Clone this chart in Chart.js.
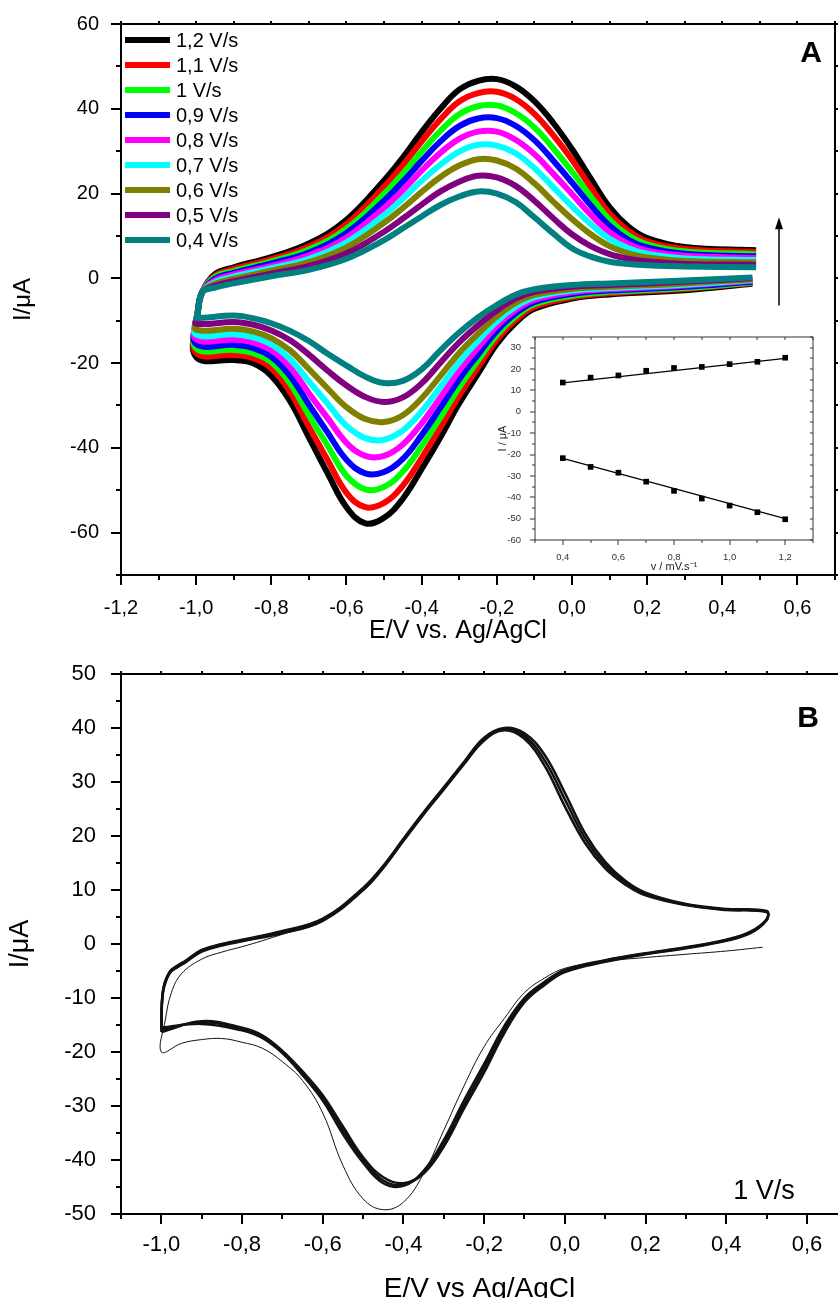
<!DOCTYPE html>
<html lang="en">
<head>
<meta charset="UTF-8" />
<title>Cyclic voltammetry</title>
<script src="https://cdn.jsdelivr.net/npm/chart.js"></script>
<style>
  html, body { margin: 0; padding: 0; background: #fff; overflow: hidden; }
  body { width: 838px; height: 1298px; position: relative; }
  .box { position: absolute; }
</style>
</head>
<body>
<div class="box" style="left:0;top:0;width:838px;height:650px"><canvas id="chartA"></canvas></div>
<div class="box" style="left:490px;top:328px;width:335px;height:250px"><canvas id="inset"></canvas></div>
<div class="box" style="left:0;top:650px;width:838px;height:670px"><canvas id="chartB"></canvas></div>

<script>
Chart.defaults.font.family = '"Liberation Sans", Arial, Helvetica, sans-serif';
Chart.defaults.color = '#000';

// ---------- panel A : CVs at several scan rates ----------
// potential path: cathodic branch (0.48 -> -1.0), switch, anodic branch (-0.95 -> 0.49)
const potA = [0.48, 0.3, 0.1, 0.0, -0.1, -0.15, -0.2, -0.25, -0.3, -0.35, -0.4, -0.45, -0.5, -0.55, -0.6, -0.65, -0.7, -0.75, -0.8, -0.85, -0.9, -1.0,
  -0.997, -0.984,
  -0.95, -0.9, -0.8, -0.7, -0.6, -0.5, -0.45, -0.4, -0.35, -0.3, -0.25, -0.2, -0.15, -0.1, -0.05, 0.0, 0.05, 0.1, 0.15, 0.2, 0.3, 0.49];

const i12 = [-1.3, -2.8, -3.8, -4.8, -7.2, -10.5, -15.5, -22.5, -29.5, -37.5, -45.0, -52.0, -56.5, -57.8, -54.0, -46.0, -37.5, -29.0, -23.0, -20.0, -19.3, -18.6,
  -9.0, -3.3,
  1.0, 2.6, 5.0, 8.2, 13.8, 23.1, 28.5, 34.5, 40.0, 44.5, 46.6, 47.0, 45.3, 41.8, 36.7, 30.5, 23.5, 16.8, 12.2, 9.5, 7.4, 6.6];
const i11 = [-1.1, -2.5, -3.5, -4.5, -6.7, -9.8, -14.5, -21.0, -27.7, -35.2, -42.4, -48.9, -53.0, -54.0, -50.6, -42.9, -35.0, -26.8, -21.2, -18.8, -18.1, -17.6,
  -9.0, -3.3,
  0.6, 2.2, 4.5, 7.5, 12.8, 21.6, 26.7, 32.3, 37.5, 41.7, 43.7, 44.0, 42.3, 38.8, 33.8, 28.0, 21.5, 15.3, 11.2, 8.7, 6.9, 6.2];
const i10 = [-1.0, -2.3, -3.2, -4.1, -6.1, -9.0, -13.4, -19.4, -25.7, -32.8, -39.6, -45.6, -49.2, -49.8, -46.6, -39.5, -32.3, -24.8, -19.8, -17.6, -16.9, -16.5,
  -9.0, -3.3,
  0.3, 1.7, 4.0, 6.8, 11.7, 19.9, 24.7, 29.9, 34.8, 38.7, 40.6, 40.8, 39.0, 35.6, 30.7, 25.2, 19.3, 13.8, 10.1, 8.0, 6.3, 5.7];
const i09 = [-0.8, -2.0, -2.9, -3.7, -5.6, -8.3, -12.4, -18.0, -23.8, -30.5, -37.0, -42.6, -45.7, -46.0, -42.8, -36.4, -29.8, -23.0, -18.5, -16.4, -15.7, -15.5,
  -9.0, -3.3,
  -0.1, 1.3, 3.5, 6.1, 10.7, 18.3, 22.8, 27.7, 32.3, 35.9, 37.7, 37.8, 36.0, 32.6, 27.8, 22.6, 17.2, 12.4, 9.1, 7.3, 5.8, 5.2];
const i08 = [-0.6, -1.7, -2.6, -3.3, -5.1, -7.5, -11.3, -16.4, -21.8, -28.1, -34.2, -39.2, -41.9, -41.9, -38.8, -33.0, -27.1, -21.0, -17.0, -15.1, -14.5, -14.4,
  -9.0, -3.3,
  -0.5, 0.9, 2.9, 5.4, 9.6, 16.6, 20.8, 25.4, 29.6, 32.9, 34.6, 34.6, 32.7, 29.3, 24.7, 19.9, 15.0, 10.9, 8.1, 6.5, 5.3, 4.8];
const i07 = [-0.4, -1.5, -2.3, -2.9, -4.5, -6.7, -10.2, -14.8, -19.8, -25.6, -31.4, -35.9, -38.1, -37.7, -34.8, -29.6, -24.3, -19.1, -15.6, -13.9, -13.2, -13.3,
  -9.0, -3.3,
  -0.9, 0.4, 2.4, 4.6, 8.5, 14.9, 18.8, 23.0, 26.8, 29.9, 31.5, 31.3, 29.5, 26.0, 21.5, 17.0, 12.8, 9.3, 7.1, 5.8, 4.7, 4.3];
const i06 = [-0.2, -1.2, -2.0, -2.5, -3.9, -5.8, -9.0, -13.1, -17.6, -23.0, -28.3, -32.3, -33.9, -33.2, -30.4, -26.0, -21.4, -17.0, -14.1, -12.5, -11.9, -12.1,
  -9.0, -3.3,
  -1.3, -0.1, 1.8, 3.8, 7.3, 13.1, 16.6, 20.4, 23.9, 26.6, 28.1, 27.8, 25.9, 22.4, 18.1, 14.0, 10.4, 7.6, 5.9, 4.9, 4.1, 3.8];
const i05 = [0.0, -0.8, -1.6, -2.0, -3.2, -4.8, -7.6, -11.1, -15.1, -19.9, -24.8, -28.1, -29.2, -28.0, -25.3, -21.8, -18.0, -14.6, -12.3, -10.9, -10.3, -10.7,
  -9.0, -3.3,
  -1.8, -0.7, 1.1, 2.9, 5.9, 11.0, 14.1, 17.4, 20.5, 22.8, 24.2, 23.8, 21.8, 18.3, 14.2, 10.4, 7.6, 5.7, 4.6, 4.0, 3.4, 3.2];
const i04 = [0.2, -0.5, -1.2, -1.6, -2.6, -3.9, -6.3, -9.2, -12.8, -17.0, -21.5, -24.2, -24.7, -23.2, -20.6, -17.8, -14.8, -12.4, -10.6, -9.4, -8.8, -9.4,
  -9.0, -3.3,
  -2.2, -1.2, 0.5, 2.0, 4.6, 9.0, 11.8, 14.6, 17.3, 19.3, 20.5, 20.0, 18.0, 14.4, 10.6, 7.1, 5.1, 3.9, 3.4, 3.1, 2.8, 2.6];

const rateLabels = ['1,2 V/s', '1,1 V/s', '1 V/s', '0,9 V/s', '0,8 V/s', '0,7 V/s', '0,6 V/s', '0,5 V/s', '0,4 V/s'];
const currentsA = [i12, i11, i10, i09, i08, i07, i06, i05, i04];
const rateColors = ['#000000', '#ff0000', '#00ff00', '#0000ff', '#ff00ff', '#00ffff', '#808000', '#800080', '#008080'];

const ticksAx = [-1.2, -1.0, -0.8, -0.6, -0.4, -0.2, 0.0, 0.2, 0.4, 0.6];
const labelsAx = ['-1,2', '-1,0', '-0,8', '-0,6', '-0,4', '-0,2', '0,0', '0,2', '0,4', '0,6'];
const ticksAy = [-60, -40, -20, 0, 20, 40, 60];

// ---------- inset : peak current vs scan rate ----------
const rateInset = [0.4, 0.5, 0.6, 0.7, 0.8, 0.9, 1.0, 1.1, 1.2];
const ipaInset = [13.7, 16.0, 17.0, 19.2, 20.5, 21.0, 22.3, 23.4, 25.3];
const ipcInset = [-21.7, -25.8, -28.5, -32.7, -37.0, -40.6, -43.9, -47.0, -50.3];
const fitRate = [0.4, 1.2];
const fitIpa = [13.5, 25.0];
const fitIpc = [-21.8, -50.0];
const ticksIx = [0.4, 0.6, 0.8, 1.0, 1.2];
const labelsIx = ['0,4', '0,6', '0,8', '1,0', '1,2'];
const ticksIy = [-60, -50, -40, -30, -20, -10, 0, 10, 20, 30];

// ---------- panel B : repeated cycles at 1 V/s ----------
const potB = [-1.0, -0.996, -0.98, -0.96, -0.94, -0.9, -0.85, -0.8, -0.7, -0.6, -0.5, -0.45, -0.4, -0.35, -0.3, -0.25, -0.2, -0.15, -0.1, -0.05, 0.0, 0.05, 0.1, 0.15, 0.2, 0.3, 0.4, 0.5,
  0.5, 0.46, 0.4, 0.3, 0.2, 0.1, 0.0, -0.05, -0.1, -0.15, -0.2, -0.25, -0.3, -0.35, -0.4, -0.45, -0.5, -0.55, -0.6, -0.65, -0.7, -0.75, -0.8, -0.9, -1.0];
const iBearly = [-16.3, -9.1, -5.5, -4.3, -3.4, -1.4, -0.3, 0.5, 2.0, 4.3, 10.0, 14.1, 19.1, 24.0, 28.6, 33.3, 37.7, 39.6, 38.0, 33.0, 25.5, 18.7, 14.0, 11.0, 9.0, 7.2, 6.3, 5.9,
  4.4, 2.0, 0.6, -0.8, -1.9, -3.3, -5.2, -7.6, -10.8, -16.5, -23.8, -30.5, -37.5, -42.5, -44.3, -43.2, -39.5, -33.8, -28.0, -23.6, -19.8, -16.9, -15.5, -14.3, -16.3];
const iBmid = [-15.9, -8.8, -5.3, -4.1, -3.2, -1.2, -0.1, 0.6, 2.2, 4.5, 10.2, 14.3, 19.3, 24.2, 28.8, 33.5, 38.0, 39.8, 38.5, 34.0, 26.8, 19.6, 14.6, 11.3, 9.2, 7.3, 6.4, 6.0,
  4.5, 2.1, 0.7, -0.7, -1.8, -3.1, -5.0, -7.3, -10.4, -15.8, -23.0, -29.8, -36.9, -42.2, -44.6, -43.8, -40.0, -34.5, -28.5, -24.0, -20.0, -17.1, -15.7, -14.5, -15.9];
const iBlate = [-15.5, -8.6, -5.2, -4.0, -3.1, -1.1, 0.0, 0.8, 2.4, 4.7, 10.4, 14.5, 19.5, 24.4, 29.0, 33.7, 38.2, 40.0, 39.0, 35.0, 28.0, 20.5, 15.2, 11.7, 9.5, 7.4, 6.5, 6.1,
  4.6, 2.3, 0.8, -0.6, -1.7, -3.0, -4.8, -7.0, -10.0, -15.2, -22.2, -29.0, -36.3, -42.0, -44.8, -44.3, -40.5, -35.2, -29.0, -24.3, -20.2, -17.4, -16.0, -14.8, -15.5];
// first cycle starts at the anodic limit and goes cathodic first
const potB1 = [0.49, 0.4, 0.3, 0.2, 0.1, 0.0, -0.05, -0.1, -0.15, -0.2, -0.25, -0.3, -0.35, -0.4, -0.45, -0.5, -0.55, -0.6, -0.65, -0.7, -0.75, -0.8, -0.85, -0.9, -0.95, -1.0,
  -0.99, -0.975, -0.95, -0.9, -0.85, -0.8, -0.75, -0.7, -0.6, -0.5, -0.45, -0.4, -0.35, -0.3, -0.25, -0.2, -0.15, -0.1, -0.05, 0.0, 0.05, 0.1, 0.15, 0.2, 0.3, 0.4, 0.5];
const iB1 = [-0.6, -1.3, -1.9, -2.5, -3.2, -4.5, -6.3, -9.0, -13.8, -19.0, -26.3, -34.5, -42.5, -47.8, -49.2, -47.2, -41.0, -31.3, -25.3, -21.8, -19.3, -18.2, -17.5, -17.7, -18.4, -20.0,
  -14.0, -9.0, -5.5, -2.8, -1.5, -0.5, 0.6, 1.8, 4.2, 9.8, 13.9, 19.0, 23.9, 28.5, 33.2, 37.7, 39.7, 38.4, 33.8, 26.6, 19.5, 14.5, 11.2, 9.1, 7.2, 6.4, 6.0];

const ticksBx = [-1.0, -0.8, -0.6, -0.4, -0.2, 0.0, 0.2, 0.4, 0.6];
const labelsBx = ['-1,0', '-0,8', '-0,6', '-0,4', '-0,2', '0,0', '0,2', '0,4', '0,6'];
const ticksBy = [-50, -40, -30, -20, -10, 0, 10, 20, 30, 40, 50];

// ---------- helpers ----------
function pts(xs, ys) {
  return xs.map((x, i) => ({ x: x, y: ys[i] }));
}
function steps(from, to, step) {
  const out = [];
  for (let v = from; v <= to + step / 1000; v += step) out.push(Math.round(v * 1000) / 1000);
  return out;
}
function fixedTicks(values) {
  return s => { s.ticks = values.map(v => ({ value: v })); };
}
function fixWidth(w) {
  return s => { s.width = w; s.paddingTop = 0; s.paddingBottom = 0; };
}
function fixHeight(h) {
  return s => { s.height = h; s.paddingLeft = 0; s.paddingRight = 0; };
}

// frame round the plot area + major/minor tick marks
const frameTicks = {
  id: 'frameTicks',
  afterDatasetsDraw(chart, args, o) {
    const { ctx, chartArea: a, scales: { x, y } } = chart;
    ctx.save();
    ctx.strokeStyle = o.color;
    ctx.lineWidth = o.lw;
    ctx.lineJoin = 'miter';
    ctx.beginPath();
    ctx.moveTo(a.right, a.top);
    ctx.lineTo(a.left, a.top);
    ctx.lineTo(a.left, a.bottom);
    ctx.lineTo(a.right, a.bottom);
    if (o.right) ctx.lineTo(a.right, a.top);
    ctx.stroke();

    ctx.beginPath();
    const xMarks = x.ticks.map(t => [t.value, o.major]).concat(o.xMinor.map(v => [v, o.minor]));
    xMarks.forEach(([v, len]) => {
      const p = Math.round(x.getPixelForValue(v));
      if (p < a.left - 1 || p > a.right + 1) return;
      ctx.moveTo(p, a.bottom); ctx.lineTo(p, a.bottom + len);
      ctx.moveTo(p, a.top); ctx.lineTo(p, a.top + o.topLen);
    });
    const yMarks = y.ticks.map(t => [t.value, o.major]).concat(o.yMinor.map(v => [v, o.minor]));
    yMarks.forEach(([v, len]) => {
      const p = Math.round(y.getPixelForValue(v));
      if (p < a.top - 1 || p > a.bottom + 1) return;
      ctx.moveTo(a.left, p); ctx.lineTo(a.left - len, p);
      if (o.right) { ctx.moveTo(a.right, p); ctx.lineTo(a.right + o.rightLen, p); }
    });
    ctx.stroke();
    ctx.restore();
  }
};

// legend, panel letter, arrow and x title for panel A
const panelAExtras = {
  id: 'panelAExtras',
  afterDatasetsDraw(chart) {
    const { ctx, chartArea: a, scales: { x, y } } = chart;
    ctx.save();
    ctx.font = '20px "Liberation Sans", Arial, sans-serif';
    ctx.textBaseline = 'middle';
    ctx.textAlign = 'left';
    chart.data.datasets.forEach((ds, i) => {
      const yy = a.top + 16 + i * 25;
      ctx.strokeStyle = ds.borderColor;
      ctx.lineWidth = 6;
      ctx.beginPath();
      ctx.moveTo(a.left + 4, yy);
      ctx.lineTo(a.left + 49, yy);
      ctx.stroke();
      ctx.fillStyle = '#000';
      ctx.fillText(ds.label, a.left + 55, yy + 1);
    });

    ctx.font = 'bold 30px "Liberation Sans", Arial, sans-serif';
    ctx.textAlign = 'center';
    ctx.fillText('A', a.right - 24, a.top + 30);

    // arrow: peak currents grow with scan rate
    const ax = x.getPixelForValue(0.551);
    const ay0 = y.getPixelForValue(-6.4);
    const ay1 = y.getPixelForValue(14.4);
    ctx.strokeStyle = '#000';
    ctx.lineWidth = 1.5;
    ctx.beginPath();
    ctx.moveTo(ax, ay0);
    ctx.lineTo(ax, ay1 + 10);
    ctx.stroke();
    ctx.beginPath();
    ctx.moveTo(ax, ay1);
    ctx.lineTo(ax - 4, ay1 + 12);
    ctx.lineTo(ax + 4, ay1 + 12);
    ctx.closePath();
    ctx.fill();

    ctx.font = '25px "Liberation Sans", Arial, sans-serif';
    ctx.textBaseline = 'alphabetic';
    ctx.fillText('E/V vs. Ag/AgCl', a.left + 337, a.bottom + 63);
    ctx.restore();
  }
};

const panelBExtras = {
  id: 'panelBExtras',
  afterDatasetsDraw(chart) {
    const { ctx, chartArea: a } = chart;
    ctx.save();
    ctx.fillStyle = '#000';
    ctx.textAlign = 'center';
    ctx.textBaseline = 'middle';
    ctx.font = 'bold 30px "Liberation Sans", Arial, sans-serif';
    ctx.fillText('B', a.right - 30, a.top + 45);
    ctx.font = '27px "Liberation Sans", Arial, sans-serif';
    ctx.fillText('1 V/s', a.right - 74, a.bottom - 22);
    ctx.restore();
  }
};

// ---------- chart A ----------
const dsA = currentsA.map((cur, i) => ({
  label: rateLabels[i],
  data: pts(potA, cur),
  borderColor: rateColors[i],
  borderWidth: 6,
  pointRadius: 0,
  showLine: true,
  tension: 0.4,
  fill: false,
  order: currentsA.length - i
}));

new Chart(document.getElementById('chartA'), {
  type: 'scatter',
  data: { datasets: dsA },
  plugins: [frameTicks, panelAExtras],
  options: {
    responsive: true,
    maintainAspectRatio: false,
    animation: false,
    layout: { padding: { top: 24, right: 3, left: 0, bottom: 0 } },
    plugins: {
      legend: { display: false },
      tooltip: { enabled: false },
      frameTicks: { color: '#000', lw: 2, major: 10, minor: 5, topLen: -3, right: true, rightLen: 3,
        xMinor: steps(-1.1, 0.7, 0.2), yMinor: steps(-70, 50, 20) }
    },
    scales: {
      x: {
        type: 'linear', min: -1.2, max: 0.7,
        grid: { display: false }, border: { display: false },
        afterBuildTicks: fixedTicks(ticksAx),
        afterFit: fixHeight(75),
        ticks: { font: { size: 20 }, color: '#000', padding: 13, maxRotation: 0, autoSkip: false,
          callback: (v, i) => labelsAx[i] }
      },
      y: {
        type: 'linear', min: -70, max: 60,
        grid: { display: false }, border: { display: false },
        afterBuildTicks: fixedTicks(ticksAy),
        afterFit: fixWidth(121),
        ticks: { font: { size: 20 }, color: '#000', padding: 14, autoSkip: false,
          callback: v => String(v) },
        title: { display: true, text: 'I/μA', font: { size: 24 }, color: '#000', padding: { top: 9, bottom: 0 } }
      }
    }
  }
});

// ---------- inset ----------
new Chart(document.getElementById('inset'), {
  type: 'scatter',
  data: {
    datasets: [
      { data: pts(rateInset, ipaInset), pointStyle: 'rect', pointRadius: 4, backgroundColor: '#000', borderColor: '#000', borderWidth: 0, showLine: false },
      { data: pts(rateInset, ipcInset), pointStyle: 'rect', pointRadius: 4, backgroundColor: '#000', borderColor: '#000', borderWidth: 0, showLine: false },
      { data: pts(fitRate, fitIpa), pointRadius: 0, borderColor: '#000', borderWidth: 1.2, showLine: true },
      { data: pts(fitRate, fitIpc), pointRadius: 0, borderColor: '#000', borderWidth: 1.2, showLine: true }
    ]
  },
  plugins: [frameTicks],
  options: {
    responsive: true,
    maintainAspectRatio: false,
    animation: false,
    layout: { padding: { top: 9, right: 12, left: 0, bottom: 0 } },
    plugins: {
      legend: { display: false },
      tooltip: { enabled: false },
      frameTicks: { color: '#333', lw: 1, major: 5, minor: 3, topLen: 3, right: true, rightLen: -3,
        xMinor: steps(0.3, 1.3, 0.2), yMinor: steps(-55, 35, 10) }
    },
    scales: {
      x: {
        type: 'linear', min: 0.3, max: 1.3,
        grid: { display: false }, border: { display: false },
        afterBuildTicks: fixedTicks(ticksIx),
        afterFit: fixHeight(38),
        ticks: { font: { size: 9.5 }, color: '#333', padding: 4, maxRotation: 0, autoSkip: false,
          callback: (v, i) => labelsIx[i] },
        title: { display: true, text: 'v / mV.s⁻¹', font: { size: 11 }, color: '#222', padding: { top: 0, bottom: 4 } }
      },
      y: {
        type: 'linear', min: -60, max: 35,
        grid: { display: false }, border: { display: false },
        afterBuildTicks: fixedTicks(ticksIy),
        afterFit: fixWidth(45),
        ticks: { font: { size: 9.5 }, color: '#333', padding: 6, autoSkip: false,
          callback: v => String(v) },
        title: { display: true, text: 'I / μA', font: { size: 11 }, color: '#222', padding: { top: 6, bottom: 0 } }
      }
    }
  }
});

// ---------- chart B ----------
const cycleLine = (label, xs, ys, w) => ({
  label, data: pts(xs, ys), borderColor: '#111', borderWidth: w,
  pointRadius: 0, showLine: true, tension: 0.4, fill: false
});

new Chart(document.getElementById('chartB'), {
  type: 'scatter',
  data: {
    datasets: [
      cycleLine('cycle 1', potB1, iB1, 1),
      cycleLine('early cycles', potB, iBearly, 2.5),
      cycleLine('middle cycles', potB, iBmid, 2.5),
      cycleLine('late cycles', potB, iBlate, 2.5)
    ]
  },
  plugins: [frameTicks, panelBExtras],
  options: {
    responsive: true,
    maintainAspectRatio: false,
    animation: false,
    layout: { padding: { top: 24, right: 0, left: 0, bottom: 0 } },
    plugins: {
      legend: { display: false },
      tooltip: { enabled: false },
      frameTicks: { color: '#000', lw: 2, major: 10, minor: 5, topLen: -3, right: false, rightLen: 0,
        xMinor: steps(-1.1, 0.7, 0.2), yMinor: steps(-45, 45, 10) }
    },
    scales: {
      x: {
        type: 'linear', min: -1.1, max: 0.677,
        grid: { display: false }, border: { display: false },
        afterBuildTicks: fixedTicks(ticksBx),
        afterFit: fixHeight(106),
        ticks: { font: { size: 22 }, color: '#000', padding: 10, maxRotation: 0, autoSkip: false,
          callback: (v, i) => labelsBx[i] },
        title: { display: true, text: 'E/V vs Ag/AgCl', font: { size: 28 }, color: '#000', padding: { top: 0, bottom: 14 } }
      },
      y: {
        type: 'linear', min: -50, max: 50,
        grid: { display: false }, border: { display: false },
        afterBuildTicks: fixedTicks(ticksBy),
        afterFit: fixWidth(121),
        ticks: { font: { size: 22 }, color: '#000', padding: 17, autoSkip: false,
          callback: v => String(v) },
        title: { display: true, text: 'I/μA', font: { size: 27 }, color: '#000', padding: { top: 4, bottom: 0 } }
      }
    }
  }
});
</script>
</body>
</html>
